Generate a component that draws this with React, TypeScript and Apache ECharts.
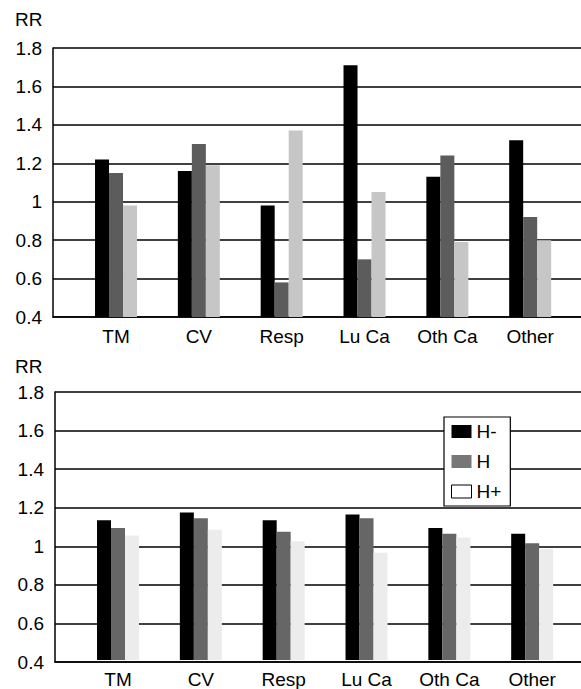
import React, { useEffect, useRef } from "react";
import * as echarts from "echarts";

const categories = ["TM", "CV", "Resp", "Lu Ca", "Oth Ca", "Other"];
const seriesNames = ["H-", "H", "H+"];
const topHminus = [1.22, 1.16, 0.98, 1.71, 1.13, 1.32];
const topH = [1.15, 1.3, 0.58, 0.7, 1.24, 0.92];
const topHplus = [0.98, 1.19, 1.37, 1.05, 0.79, 0.8];
const bottomHminus = [1.13, 1.17, 1.13, 1.16, 1.09, 1.06];
const bottomH = [1.09, 1.14, 1.07, 1.14, 1.06, 1.01];
const bottomHplus = [1.05, 1.08, 1.02, 0.96, 1.04, 0.98];
const yMin = 0.4;
const yMax = 1.8;
const yStep = 0.2;

const FONT = "'Liberation Sans', Arial, sans-serif";

export default function App() {
  const ref = useRef<HTMLDivElement>(null);
  useEffect(() => {
    if (!ref.current) return;
    const chart = echarts.init(ref.current, undefined, { renderer: "svg" });
    const panels = [
      { top: 48, height: 269, frameLeft: 53, barLeft: 74.6, data: [topHminus, topH, topHplus], colors: ["#000000", "#5c5c5c", "#c6c6c6"] },
      { top: 392, height: 270, frameLeft: 55, barLeft: 76.6, data: [bottomHminus, bottomH, bottomHplus], colors: ["#000000", "#666666", "#ececec"] },
    ];
    const grid: any[] = [];
    const xAxis: any[] = [];
    const yAxis: any[] = [];
    const series: any[] = [];
    panels.forEach((p, pi) => {
      const gFrame = grid.length;
      grid.push({ left: p.frameLeft, right: 0, top: p.top, height: p.height });
      grid.push({ left: p.barLeft, width: 497, top: p.top, height: p.height });
      xAxis.push({
        gridIndex: gFrame, type: "value", min: 0, max: 1,
        axisLine: { show: true, lineStyle: { color: "#000", width: 1.5 } },
        axisTick: { show: false }, axisLabel: { show: false }, splitLine: { show: false },
      });
      yAxis.push({
        gridIndex: gFrame, type: "value", min: yMin, max: yMax, interval: yStep,
        axisLine: { show: true, lineStyle: { color: "#000", width: 1.5 } },
        axisTick: { show: false },
        axisLabel: {
          color: "#000", fontSize: 19, fontFamily: FONT, margin: 11,
          formatter: (v: number) => String(+v.toFixed(1)),
        },
        splitLine: { show: true, lineStyle: { color: "#000", width: 1.5 } },
      });
      xAxis.push({
        gridIndex: gFrame + 1, type: "category", data: categories,
        axisLine: { show: false }, axisTick: { show: false },
        axisLabel: { color: "#000", fontSize: 19, fontFamily: FONT, margin: 10 },
      });
      yAxis.push({ gridIndex: gFrame + 1, type: "value", min: yMin, max: yMax, interval: yStep, show: false });
      seriesNames.forEach((name, si) => {
        series.push({
          name, type: "bar", xAxisIndex: gFrame + 1, yAxisIndex: gFrame + 1,
          data: p.data[si], barWidth: 14, barGap: "0%",
          itemStyle: { color: p.colors[si] },
        });
      });
    });
    chart.setOption({
      animation: false,
      backgroundColor: "#fff",
      grid, xAxis, yAxis, series,
      legend: {
        orient: "vertical", left: 444, top: 417,
        padding: [5, 9, 5, 7],
        itemWidth: 20, itemHeight: 13, itemGap: 11,
        borderColor: "#000", borderWidth: 1.2, backgroundColor: "#fff",
        textStyle: { color: "#000", fontSize: 19, fontFamily: FONT, lineHeight: 19 },
        icon: "rect",
        data: [
          { name: "H-", itemStyle: { color: "#000" } },
          { name: "H", itemStyle: { color: "#777777" } },
          { name: "H+", itemStyle: { color: "#ffffff", borderColor: "#000", borderWidth: 1 } },
        ],
      },
      graphic: [
        { type: "text", left: 15, top: 10, style: { text: "RR", fontSize: 19, fontFamily: FONT, fill: "#000" } },
        { type: "text", left: 15, top: 357, style: { text: "RR", fontSize: 19, fontFamily: FONT, fill: "#000" } },
      ],
    });
    return () => chart.dispose();
  }, []);
  return <div ref={ref} style={{ position: "absolute", left: 0, top: 0, width: 581, height: 689 }} />;
}
